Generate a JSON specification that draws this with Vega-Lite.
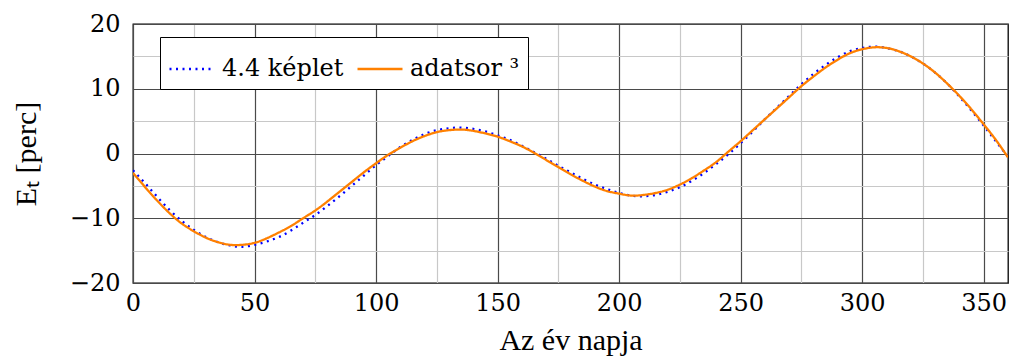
{
  "$schema": "https://vega.github.io/schema/vega-lite/v6.json",
  "width": 875,
  "height": 259,
  "autosize": {"type": "none"},
  "padding": {"left": 133, "top": 24, "right": 1, "bottom": 80},
  "background": "white",
  "config": {
    "view": {"stroke": "black", "strokeWidth": 1.3},
    "axis": {
      "labelFont": "DejaVu Serif",
      "labelFontSize": 24,
      "labelColor": "black",
      "titleFont": "Liberation Serif",
      "titleFontSize": 30,
      "titleFontWeight": "normal",
      "titleColor": "black",
      "domain": false,
      "ticks": false
    }
  },
  "data": {
    "values": [
      {"day": 0, "val": -2.6, "s": "4.4 képlet"},
      {"day": 5, "val": -4.6, "s": "4.4 képlet"},
      {"day": 10, "val": -6.7, "s": "4.4 képlet"},
      {"day": 15, "val": -8.7, "s": "4.4 képlet"},
      {"day": 20, "val": -10.4, "s": "4.4 képlet"},
      {"day": 25, "val": -11.8, "s": "4.4 képlet"},
      {"day": 30, "val": -12.9, "s": "4.4 képlet"},
      {"day": 35, "val": -13.7, "s": "4.4 képlet"},
      {"day": 40, "val": -14.2, "s": "4.4 képlet"},
      {"day": 45, "val": -14.4, "s": "4.4 képlet"},
      {"day": 50, "val": -14.1, "s": "4.4 képlet"},
      {"day": 55, "val": -13.6, "s": "4.4 képlet"},
      {"day": 60, "val": -12.9, "s": "4.4 képlet"},
      {"day": 65, "val": -11.9, "s": "4.4 képlet"},
      {"day": 70, "val": -10.7, "s": "4.4 képlet"},
      {"day": 75, "val": -9.5, "s": "4.4 képlet"},
      {"day": 80, "val": -8.1, "s": "4.4 képlet"},
      {"day": 85, "val": -6.6, "s": "4.4 képlet"},
      {"day": 90, "val": -5.0, "s": "4.4 képlet"},
      {"day": 95, "val": -3.4, "s": "4.4 képlet"},
      {"day": 100, "val": -1.8, "s": "4.4 képlet"},
      {"day": 105, "val": -0.4, "s": "4.4 képlet"},
      {"day": 110, "val": 1.0, "s": "4.4 képlet"},
      {"day": 115, "val": 2.1, "s": "4.4 képlet"},
      {"day": 120, "val": 3.0, "s": "4.4 képlet"},
      {"day": 125, "val": 3.6, "s": "4.4 képlet"},
      {"day": 130, "val": 3.9, "s": "4.4 képlet"},
      {"day": 135, "val": 4.0, "s": "4.4 képlet"},
      {"day": 140, "val": 3.8, "s": "4.4 képlet"},
      {"day": 145, "val": 3.4, "s": "4.4 képlet"},
      {"day": 150, "val": 2.8, "s": "4.4 képlet"},
      {"day": 155, "val": 2.1, "s": "4.4 képlet"},
      {"day": 160, "val": 1.2, "s": "4.4 képlet"},
      {"day": 165, "val": 0.2, "s": "4.4 képlet"},
      {"day": 170, "val": -0.8, "s": "4.4 képlet"},
      {"day": 175, "val": -1.9, "s": "4.4 képlet"},
      {"day": 180, "val": -2.9, "s": "4.4 képlet"},
      {"day": 185, "val": -3.9, "s": "4.4 képlet"},
      {"day": 190, "val": -4.8, "s": "4.4 képlet"},
      {"day": 195, "val": -5.5, "s": "4.4 képlet"},
      {"day": 200, "val": -6.1, "s": "4.4 képlet"},
      {"day": 205, "val": -6.5, "s": "4.4 képlet"},
      {"day": 210, "val": -6.6, "s": "4.4 képlet"},
      {"day": 215, "val": -6.4, "s": "4.4 képlet"},
      {"day": 220, "val": -5.9, "s": "4.4 képlet"},
      {"day": 225, "val": -5.2, "s": "4.4 képlet"},
      {"day": 230, "val": -4.2, "s": "4.4 képlet"},
      {"day": 235, "val": -3.0, "s": "4.4 képlet"},
      {"day": 240, "val": -1.6, "s": "4.4 képlet"},
      {"day": 245, "val": -0.1, "s": "4.4 képlet"},
      {"day": 250, "val": 1.6, "s": "4.4 képlet"},
      {"day": 255, "val": 3.4, "s": "4.4 képlet"},
      {"day": 260, "val": 5.3, "s": "4.4 képlet"},
      {"day": 265, "val": 7.1, "s": "4.4 képlet"},
      {"day": 270, "val": 8.9, "s": "4.4 képlet"},
      {"day": 275, "val": 10.7, "s": "4.4 képlet"},
      {"day": 280, "val": 12.3, "s": "4.4 képlet"},
      {"day": 285, "val": 13.7, "s": "4.4 képlet"},
      {"day": 290, "val": 14.9, "s": "4.4 képlet"},
      {"day": 295, "val": 15.8, "s": "4.4 képlet"},
      {"day": 300, "val": 16.3, "s": "4.4 képlet"},
      {"day": 305, "val": 16.5, "s": "4.4 képlet"},
      {"day": 310, "val": 16.3, "s": "4.4 képlet"},
      {"day": 315, "val": 15.8, "s": "4.4 képlet"},
      {"day": 320, "val": 15.0, "s": "4.4 képlet"},
      {"day": 325, "val": 13.9, "s": "4.4 képlet"},
      {"day": 330, "val": 12.5, "s": "4.4 képlet"},
      {"day": 335, "val": 10.8, "s": "4.4 képlet"},
      {"day": 340, "val": 8.8, "s": "4.4 képlet"},
      {"day": 345, "val": 6.6, "s": "4.4 képlet"},
      {"day": 350, "val": 4.3, "s": "4.4 képlet"},
      {"day": 355, "val": 1.9, "s": "4.4 képlet"},
      {"day": 360, "val": -0.5, "s": "4.4 képlet"},
      {"day": 0, "val": -3.0, "s": "adatsor ³"},
      {"day": 5, "val": -5.2, "s": "adatsor ³"},
      {"day": 10, "val": -7.3, "s": "adatsor ³"},
      {"day": 15, "val": -9.2, "s": "adatsor ³"},
      {"day": 20, "val": -10.8, "s": "adatsor ³"},
      {"day": 25, "val": -12.0, "s": "adatsor ³"},
      {"day": 30, "val": -13.0, "s": "adatsor ³"},
      {"day": 35, "val": -13.7, "s": "adatsor ³"},
      {"day": 40, "val": -14.1, "s": "adatsor ³"},
      {"day": 45, "val": -14.1, "s": "adatsor ³"},
      {"day": 50, "val": -13.8, "s": "adatsor ³"},
      {"day": 55, "val": -13.1, "s": "adatsor ³"},
      {"day": 60, "val": -12.2, "s": "adatsor ³"},
      {"day": 65, "val": -11.2, "s": "adatsor ³"},
      {"day": 70, "val": -10.0, "s": "adatsor ³"},
      {"day": 75, "val": -8.8, "s": "adatsor ³"},
      {"day": 80, "val": -7.4, "s": "adatsor ³"},
      {"day": 85, "val": -5.9, "s": "adatsor ³"},
      {"day": 90, "val": -4.4, "s": "adatsor ³"},
      {"day": 95, "val": -2.9, "s": "adatsor ³"},
      {"day": 100, "val": -1.5, "s": "adatsor ³"},
      {"day": 105, "val": -0.2, "s": "adatsor ³"},
      {"day": 110, "val": 0.9, "s": "adatsor ³"},
      {"day": 115, "val": 1.9, "s": "adatsor ³"},
      {"day": 120, "val": 2.7, "s": "adatsor ³"},
      {"day": 125, "val": 3.3, "s": "adatsor ³"},
      {"day": 130, "val": 3.6, "s": "adatsor ³"},
      {"day": 135, "val": 3.7, "s": "adatsor ³"},
      {"day": 140, "val": 3.5, "s": "adatsor ³"},
      {"day": 145, "val": 3.1, "s": "adatsor ³"},
      {"day": 150, "val": 2.6, "s": "adatsor ³"},
      {"day": 155, "val": 1.9, "s": "adatsor ³"},
      {"day": 160, "val": 1.1, "s": "adatsor ³"},
      {"day": 165, "val": 0.1, "s": "adatsor ³"},
      {"day": 170, "val": -1.0, "s": "adatsor ³"},
      {"day": 175, "val": -2.1, "s": "adatsor ³"},
      {"day": 180, "val": -3.2, "s": "adatsor ³"},
      {"day": 185, "val": -4.2, "s": "adatsor ³"},
      {"day": 190, "val": -5.1, "s": "adatsor ³"},
      {"day": 195, "val": -5.8, "s": "adatsor ³"},
      {"day": 200, "val": -6.2, "s": "adatsor ³"},
      {"day": 205, "val": -6.5, "s": "adatsor ³"},
      {"day": 210, "val": -6.4, "s": "adatsor ³"},
      {"day": 215, "val": -6.1, "s": "adatsor ³"},
      {"day": 220, "val": -5.6, "s": "adatsor ³"},
      {"day": 225, "val": -4.8, "s": "adatsor ³"},
      {"day": 230, "val": -3.8, "s": "adatsor ³"},
      {"day": 235, "val": -2.6, "s": "adatsor ³"},
      {"day": 240, "val": -1.3, "s": "adatsor ³"},
      {"day": 245, "val": 0.3, "s": "adatsor ³"},
      {"day": 250, "val": 1.9, "s": "adatsor ³"},
      {"day": 255, "val": 3.6, "s": "adatsor ³"},
      {"day": 260, "val": 5.3, "s": "adatsor ³"},
      {"day": 265, "val": 7.0, "s": "adatsor ³"},
      {"day": 270, "val": 8.7, "s": "adatsor ³"},
      {"day": 275, "val": 10.4, "s": "adatsor ³"},
      {"day": 280, "val": 11.9, "s": "adatsor ³"},
      {"day": 285, "val": 13.3, "s": "adatsor ³"},
      {"day": 290, "val": 14.5, "s": "adatsor ³"},
      {"day": 295, "val": 15.5, "s": "adatsor ³"},
      {"day": 300, "val": 16.1, "s": "adatsor ³"},
      {"day": 305, "val": 16.4, "s": "adatsor ³"},
      {"day": 310, "val": 16.3, "s": "adatsor ³"},
      {"day": 315, "val": 15.8, "s": "adatsor ³"},
      {"day": 320, "val": 15.0, "s": "adatsor ³"},
      {"day": 325, "val": 13.9, "s": "adatsor ³"},
      {"day": 330, "val": 12.5, "s": "adatsor ³"},
      {"day": 335, "val": 10.8, "s": "adatsor ³"},
      {"day": 340, "val": 8.9, "s": "adatsor ³"},
      {"day": 345, "val": 6.8, "s": "adatsor ³"},
      {"day": 350, "val": 4.5, "s": "adatsor ³"},
      {"day": 355, "val": 2.1, "s": "adatsor ³"},
      {"day": 360, "val": -0.6, "s": "adatsor ³"}
    ]
  },
  "mark": {"type": "line", "interpolate": "natural", "clip": true, "strokeWidth": 2.3},
  "encoding": {
    "x": {
      "field": "day",
      "type": "quantitative",
      "scale": {"domain": [0, 360], "nice": false, "zero": false},
      "axis": {
        "title": "Az év napja",
        "values": [0, 25, 50, 75, 100, 125, 150, 175, 200, 225, 250, 275, 300, 325, 350],
        "labelExpr": "datum.value % 50 === 0 ? datum.label : ''",
        "labelFont": "DejaVu Serif",
        "labelPadding": 8,
        "labelFlush": false,
        "labelOverlap": false,
        "titlePadding": 10,
        "grid": true,
        "gridColor": {"condition": {"test": "datum.value % 50 === 0", "value": "#4a4a4a"}, "value": "#c8c8c8"},
        "gridWidth": 1.2
      }
    },
    "y": {
      "field": "val",
      "type": "quantitative",
      "scale": {"domain": [-20, 20], "nice": false, "zero": false},
      "axis": {
        "title": "Eₜ [perc]",
        "values": [-20, -15, -10, -5, 0, 5, 10, 15, 20],
        "labelExpr": "datum.value % 10 === 0 ? datum.label : ''",
        "labelFont": "DejaVu Serif",
        "labelPadding": 13,
        "labelFlush": false,
        "labelOverlap": false,
        "titlePadding": 28,
        "grid": true,
        "gridColor": {"condition": {"test": "datum.value % 10 === 0", "value": "#4a4a4a"}, "value": "#c8c8c8"},
        "gridWidth": 1.2
      }
    },
    "color": {
      "field": "s",
      "type": "nominal",
      "scale": {"domain": ["4.4 képlet", "adatsor ³"], "range": ["#0000ff", "#ff8000"]},
      "legend": {
        "title": null,
        "orient": "none",
        "legendX": 27,
        "legendY": 13,
        "direction": "horizontal",
        "strokeColor": "black",
        "fillColor": "white",
        "padding": 8,
        "symbolType": "stroke",
        "symbolSize": 2025,
        "symbolStrokeWidth": 2.3,
        "labelFont": "DejaVu Serif",
        "labelFontSize": 24,
        "labelColor": "black",
        "labelOffset": 6,
        "columnPadding": 8
      }
    },
    "strokeDash": {
      "field": "s",
      "type": "nominal",
      "scale": {"domain": ["4.4 képlet", "adatsor ³"], "range": [[2, 4.5], [1, 0]]},
      "legend": null
    }
  }
}
